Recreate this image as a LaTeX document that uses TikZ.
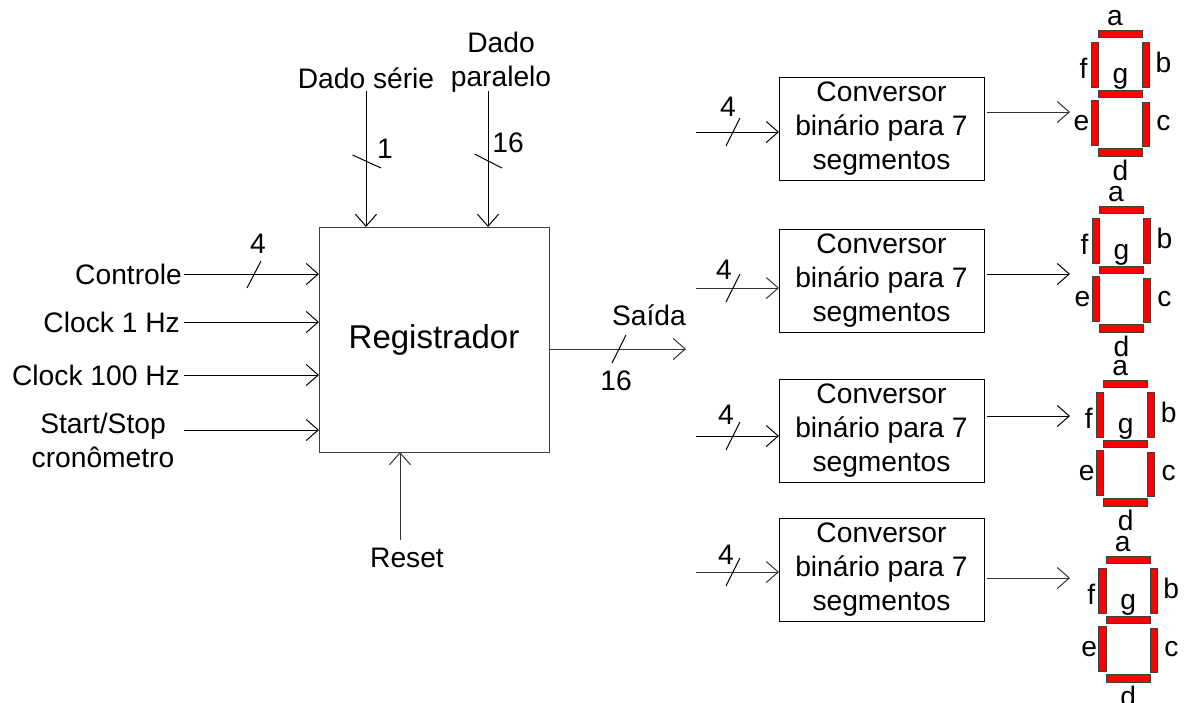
\documentclass[tikz,border=0pt]{standalone}
\usepackage{fontspec}
\setmainfont{Liberation Sans}
\usetikzlibrary{arrows.meta}
\newcommand{\lblfont}{\fontsize{28.2}{34}\selectfont}
\tikzset{
  lbl/.style={inner sep=0pt,font=\lblfont,align=center},
  boxed/.style={draw=black,line width=0.9pt,fill=white,inner sep=0pt,align=center},
  conv/.style={boxed,minimum width=205pt,minimum height=103pt,font=\fontsize{28.2}{34}\selectfont},
  sig/.style={line width=0.95pt,-{Straight Barb[length=12pt,width=21pt,line width=1pt]}},
  sigthin/.style={sig,line width=0.85pt,draw=black!80},
  slash/.style={line width=1pt},
  segm/.style={draw=black!75,line width=1pt,fill=red}
}
% seven-segment display: #1 name prefix, #2 x and #3 y of the top-left corner of segment a
\newcommand{\sevenseg}[3]{%
  \begin{scope}[shift={(#2,#3)}]
    \draw[segm] (0,0) rectangle (44,7.5);
    \draw[segm] (-7.5,12) rectangle (0,57);
    \draw[segm] (44,12) rectangle (51,57);
    \draw[segm] (0,60) rectangle (44,67);
    \draw[segm] (-7.5,70) rectangle (0,115);
    \draw[segm] (44,72) rectangle (51,116);
    \draw[segm] (0,118.5) rectangle (44,126);
    \node[lbl] (#1a) at (16.5,-11.5) {a};
    \node[lbl] (#1f) at (-15,38) {f};
    \node[lbl] (#1b) at (65,32.5) {b};
    \node[lbl] (#1g) at (22,49) {g};
    \node[lbl] (#1e) at (-17,93) {e};
    \node[lbl] (#1c) at (65,93) {c};
    \node[lbl] (#1d) at (22,140) {d};
  \end{scope}}
\begin{document}
\begin{tikzpicture}[x=1pt,y=-1pt]
\useasboundingbox (0,0) rectangle (1184,702);
% register
\node[boxed,draw=black!75,minimum width=230pt,minimum height=225pt,font=\fontsize{33}{38}\selectfont] (reg) at (434,339.5) {\raisebox{-2pt}{Registrador}};
% left inputs
\node[lbl,anchor=east] (ctl) at (182,274) {Controle};
\node[lbl,anchor=east] (c1) at (180,322) {Clock 1 Hz};
\node[lbl,anchor=east] (c100) at (180,375) {Clock 100 Hz};
\node[lbl] (ss) at (103,440) {Start/Stop\\cronômetro};
\coordinate (ctlS) at (184,274); \coordinate (ctlE) at (319,274);
\coordinate (c1S) at (184,322); \coordinate (c1E) at (319,322);
\coordinate (c100S) at (184,375); \coordinate (c100E) at (319,375);
\coordinate (ssS) at (184,430); \coordinate (ssE) at (319,430);
\draw[sig] (ctlS) -- (ctlE);
\draw[sig] (c1S) -- (c1E);
\draw[sig] (c100S) -- (c100E);
\draw[sig] (ssS) -- (ssE);
\coordinate (sl1a) at (247,288); \coordinate (sl1b) at (261,261);
\draw[slash] (sl1a) -- (sl1b);
\node[lbl] (n4) at (258,244) {4};
% top inputs
\node[lbl] (ser) at (366,78) {Dado série};
\node[lbl] (par) at (501,62.5) {Dado\\paralelo};
\coordinate (serS) at (366,91); \coordinate (serE) at (366,227);
\coordinate (parS) at (488,91); \coordinate (parE) at (488,227);
\draw[sig] (serS) -- (serE);
\draw[sig] (parS) -- (parE);
\coordinate (sl2a) at (352.5,155); \coordinate (sl2b) at (381,168);
\coordinate (sl3a) at (474.5,154); \coordinate (sl3b) at (502,168);
\draw[slash] (sl2a) -- (sl2b);
\draw[slash] (sl3a) -- (sl3b);
\node[lbl] (n1) at (385,149) {1};
\node[lbl] (n16a) at (508,143) {16};
% reset
\node[lbl] (rst) at (407,558) {Reset};
\coordinate (rstS) at (400,540); \coordinate (rstE) at (400,452);
\draw[sigthin] (rstS) -- (rstE);
% output
\coordinate (outS) at (549,349); \coordinate (outE) at (686,349);
\draw[sigthin] (outS) -- (outE);
\coordinate (sl4a) at (612,363); \coordinate (sl4b) at (626,335);
\draw[slash] (sl4a) -- (sl4b);
\node[lbl] (sai) at (649,315) {Saída};
\node[lbl] (n16b) at (616,381) {16};
% converters
\foreach \i/\cy/\iy/\ly/\lx/\oy/\ist/\ost in {1/128.5/132/107/728/112/sig/sigthin, 2/280.5/288/270/724/274/sigthin/sig, 3/430.5/436/415/726/416/sig/sig, 4/569.5/572/555/726/578/sigthin/sigthin}{
  \node[conv] (cv\i) at (881.5,\cy) {Conversor\\binário para 7\\segmentos};
  \coordinate (inS\i) at (696,\iy); \coordinate (inE\i) at (779,\iy);
  \draw[\ist] (inS\i) -- (inE\i);
  \coordinate (slA\i) at (726,\iy+14); \coordinate (slB\i) at (740,\iy-14);
  \draw[slash] (slA\i) -- (slB\i);
  \node[lbl] (nf\i) at (\lx,\ly) {4};
  \coordinate (outS\i) at (987,\oy); \coordinate (outE\i) at (1070,\oy);
  \draw[\ost] (outS\i) -- (outE\i);
}
\sevenseg{p}{1098.5}{30}
\sevenseg{q}{1099.5}{206}
\sevenseg{r}{1103.7}{380}
\sevenseg{s}{1106.3}{556}
\end{tikzpicture}
\end{document}
